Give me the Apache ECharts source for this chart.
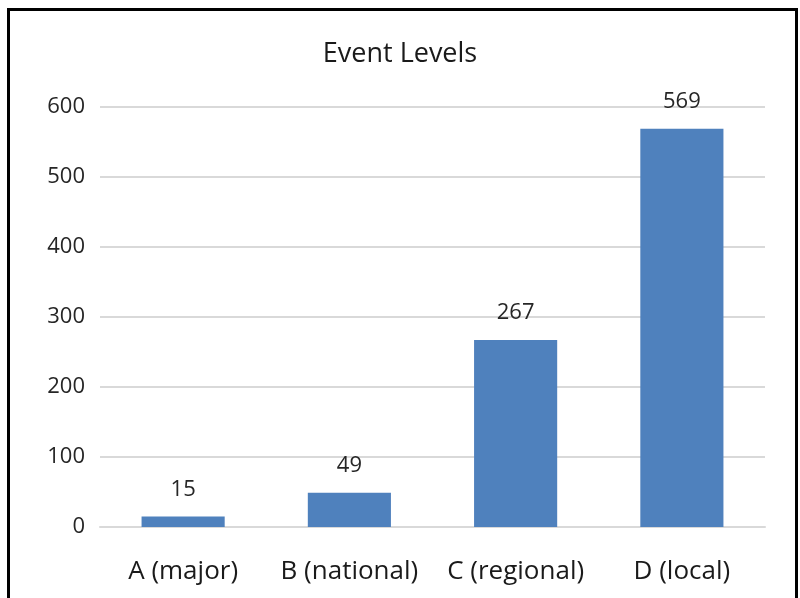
<!DOCTYPE html>
<html>
<head>
<meta charset="utf-8">
<script src="https://cdn.jsdelivr.net/npm/echarts@6/dist/echarts.min.js"></script>
<style>
  html, body { margin: 0; padding: 0; background: #fff; }
  #wrap { position: relative; width: 800px; height: 598px; overflow: hidden; }
  #chart { position: absolute; left: 0; top: 0; width: 800px; height: 598px; }
  #frame { position: absolute; left: 7px; top: 8px; width: 785px; height: 620px;
           border: 3px solid #000; border-bottom: none; pointer-events: none; }
</style>
</head>
<body>
<div id="wrap">
  <div id="chart"></div>
  <div id="frame"></div>
</div>
<script>
const title = 'Event Levels';
const categories = ['A (major)', 'B (national)', 'C (regional)', 'D (local)'];
const counts = [15, 49, 267, 569];
const yTicks = { min: 0, max: 600, interval: 100 };

const font = '"Open Sans", "Noto Sans", sans-serif';
const chart = echarts.init(document.getElementById('chart'), null, { renderer: 'canvas' });
chart.setOption({
  backgroundColor: '#fff',
  animation: false,
  title: {
    text: title,
    left: 'center',
    top: 36,
    textStyle: { fontFamily: font, fontSize: 27, fontWeight: 'normal', color: '#1a1a1a' }
  },
  grid: { left: 100, right: 35, top: 107, bottom: 71 },
  xAxis: {
    type: 'category',
    data: categories,
    axisLine: { lineStyle: { color: '#d9d9d9', width: 2 } },
    axisTick: { show: false },
    axisLabel: {
      interval: 0,
      hideOverlap: false,
      fontFamily: font,
      fontSize: 26,
      color: '#1a1a1a',
      margin: 32
    }
  },
  yAxis: {
    type: 'value',
    min: yTicks.min,
    max: yTicks.max,
    interval: yTicks.interval,
    axisLine: { show: false },
    axisTick: { show: false },
    splitLine: { lineStyle: { color: '#d9d9d9', width: 2 } },
    axisLabel: { fontFamily: font, fontSize: 22, color: '#262626', margin: 15 }
  },
  series: [{
    type: 'bar',
    data: counts,
    barWidth: '50%',
    itemStyle: { color: '#4F81BD' },
    label: {
      show: true,
      position: 'top',
      distance: 16,
      fontFamily: font,
      fontSize: 22,
      color: '#262626'
    }
  }]
});
</script>
</body>
</html>
